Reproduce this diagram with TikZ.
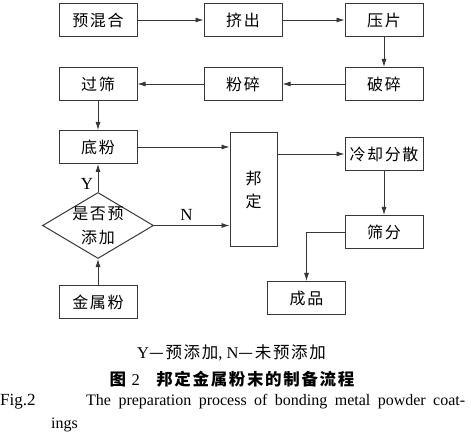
\documentclass[tikz,border=0pt]{standalone}
\usepackage{fontspec}
\setmainfont{Liberation Serif}
\newfontfamily\cjk[LetterSpace=10]{Noto Sans CJK SC}
\usepackage{xcolor}
\definecolor{linegray}{RGB}{55, 55, 55}
\usepackage{tikz}
\usetikzlibrary{positioning, shapes.geometric, arrows.meta}

\tikzset{
    stepbox/.style={draw=linegray, line width=1pt, inner sep=0pt,
        minimum width=78pt, minimum height=33pt,
        font=\cjk\fontsize{16}{19}\selectfont},
    flow/.style={draw=linegray, line width=0.8pt,
        -{Latex[length=8pt, width=5pt]}},
}

\begin{document}
\begin{tikzpicture}[x=1pt, y=1pt]
    \useasboundingbox (0,0) rectangle (471,-435);
    % top two rows
    \node[stepbox] (premix) at (98,-20) {预混合};
    \node[stepbox, right=66pt of premix] (extrude) {挤出};
    \node[stepbox, right=62pt of extrude] (press) {压片};
    \node[stepbox, below=30pt of press] (crush) {破碎};
    \node[stepbox, left=62pt of crush] (grind) {粉碎};
    \node[stepbox, left=66pt of grind] (sift) {过筛};
    % left column
    \node[stepbox, below=29pt of sift] (base) {底粉};
    \node[diamond, draw=linegray, line width=1pt, inner sep=0pt,
          minimum width=111pt, minimum height=66pt, shape aspect=1.68,
          below=28pt of base,
          label={[align=center, font=\cjk\fontsize{16}{24}\selectfont]center:是否预\\添加}]
         (ask) {};
    \node[stepbox, below=26pt of ask] (metal) {金属粉};
    % bonding and after
    \node[draw=linegray, line width=1pt, inner sep=0pt,
          minimum width=47pt, minimum height=114pt,
          align=center, font=\cjk\fontsize{16}{23}\selectfont]
         (bond) at (253.5,-190) {邦\\定};
    \node[stepbox, below=36pt of crush] (cool) {冷却分散};
    \node[stepbox, below=44pt of cool] (sieve) {筛分};
    \node[stepbox] (product) at (306.5,-298) {成品};

    \draw[flow] (premix) -- (extrude);
    \draw[flow] (extrude) -- (press);
    \draw[flow] (press) -- (crush);
    \draw[flow] (crush) -- (grind);
    \draw[flow] (grind) -- (sift);
    \draw[flow] (sift) -- (base);
    \draw[flow] (metal) -- (ask);
    \draw[flow] (ask) -- node[pos=0.3, left=1pt, font=\fontsize{17}{17}\selectfont] (yes) {Y} (base);
    \draw[flow] (ask.east) -- node[pos=0.43, above=1pt, font=\fontsize{17}{17}\selectfont] (no) {N} (ask.east -| bond.west);
    \draw[flow] (base.east) -- (base.east -| bond.west);
    \draw[flow] (cool.west -| bond.east) -- (cool.west);
    \draw[flow] (cool) -- (sieve);
    \draw[flow] (sieve.west) -| (product.north);

    % captions
    \node[font=\fontsize{16.5}{16.5}\selectfont] (note) at (231.5,-353)
         {Y{\cjk —预添加}, N{\cjk —未预添加}};
    \node[font=\cjk\bfseries\fontsize{16.5}{16.5}\selectfont] (title) at (232,-379)
         {图 {\rmfamily\mdseries 2}\quad 邦定金属粉末的制备流程};
    \node[anchor=base west, inner sep=0pt, font=\fontsize{17}{17}\selectfont]
         (figno) at (0,-405) {Fig.2};
    \node[anchor=base west, inner sep=0pt, font=\fontsize{16}{16}\selectfont]
         (entitle) at (86,-405)
         {\makebox[379pt][s]{The preparation process of bonding metal powder coat-}};
    \node[anchor=base west, inner sep=0pt, font=\fontsize{16}{16}\selectfont]
         (entail) at (51,-428) {ings};
\end{tikzpicture}
\end{document}
